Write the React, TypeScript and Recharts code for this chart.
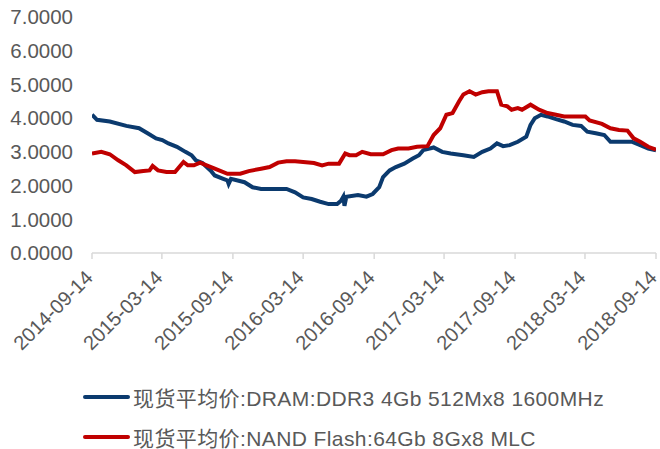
import React from 'react';
import { LineChart, Line, XAxis, YAxis } from 'recharts';

const dramDays = [0, 13, 46, 89, 122, 144, 166, 182, 198, 220, 242, 258, 269, 286, 307, 318, 340, 351, 354, 360, 395, 416, 438, 482, 504, 526, 547, 569, 591, 613, 635, 645, 651, 654, 659, 689, 711, 727, 744, 754, 771, 787, 809, 831, 847, 858, 885, 907, 929, 962, 989, 1011, 1032, 1049, 1065, 1082, 1103, 1125, 1136, 1147, 1163, 1180, 1202, 1223, 1245, 1267, 1283, 1305, 1327, 1343, 1365, 1398, 1420, 1441, 1461];
const dramValues = [4.1, 3.95, 3.9, 3.77, 3.7, 3.55, 3.4, 3.35, 3.25, 3.15, 3.0, 2.9, 2.75, 2.67, 2.45, 2.3, 2.2, 2.15, 2.05, 2.2, 2.1, 1.95, 1.9, 1.9, 1.9, 1.8, 1.65, 1.6, 1.52, 1.45, 1.45, 1.55, 1.67, 1.4, 1.67, 1.72, 1.67, 1.75, 1.95, 2.25, 2.45, 2.55, 2.65, 2.8, 2.9, 3.05, 3.13, 3.0, 2.95, 2.9, 2.85, 3.0, 3.1, 3.25, 3.17, 3.2, 3.3, 3.45, 3.8, 4.0, 4.1, 4.05, 3.97, 3.9, 3.8, 3.77, 3.6, 3.55, 3.5, 3.3, 3.3, 3.3, 3.2, 3.1, 3.05];

const nandDays = [0, 24, 46, 68, 89, 111, 133, 149, 157, 171, 193, 215, 237, 248, 264, 280, 297, 318, 351, 384, 406, 438, 460, 482, 504, 526, 547, 575, 596, 613, 640, 656, 667, 684, 700, 722, 754, 776, 793, 820, 842, 869, 885, 902, 918, 934, 951, 962, 978, 994, 1011, 1027, 1049, 1060, 1076, 1087, 1103, 1114, 1136, 1158, 1180, 1202, 1223, 1256, 1278, 1289, 1321, 1343, 1365, 1387, 1403, 1420, 1441, 1461];
const nandValues = [2.95, 3.0, 2.93, 2.75, 2.6, 2.4, 2.43, 2.45, 2.58, 2.45, 2.4, 2.4, 2.7, 2.6, 2.6, 2.68, 2.6, 2.5, 2.35, 2.35, 2.43, 2.5, 2.55, 2.68, 2.72, 2.72, 2.7, 2.67, 2.6, 2.65, 2.65, 2.95, 2.9, 2.9, 3.0, 2.93, 2.93, 3.05, 3.1, 3.1, 3.15, 3.17, 3.5, 3.7, 4.1, 4.15, 4.5, 4.7, 4.8, 4.7, 4.77, 4.8, 4.8, 4.4, 4.35, 4.25, 4.3, 4.25, 4.4, 4.25, 4.15, 4.1, 4.05, 4.05, 4.05, 3.93, 3.83, 3.7, 3.65, 3.63, 3.4, 3.3, 3.15, 3.07];

const tickDays = [0, 181, 365, 547, 731, 912, 1096, 1277, 1461];
const tickLabels = ['2014-09-14', '2015-03-14', '2015-09-14', '2016-03-14', '2016-09-14', '2017-03-14', '2017-09-14', '2018-03-14', '2018-09-14'];
const yTicks = [0, 1, 2, 3, 4, 5, 6, 7];

const dramName = '现货平均价:DRAM:DDR3 4Gb 512Mx8 1600MHz';
const nandName = '现货平均价:NAND Flash:64Gb 8Gx8 MLC';
const dramColor = '#0B3A6E';
const nandColor = '#C00000';

const dramData = dramDays.map((d, i) => ({ day: d, value: dramValues[i] }));
const nandData = nandDays.map((d, i) => ({ day: d, value: nandValues[i] }));

const FONT = 'Arial, "Liberation Sans", "Noto Sans CJK SC", sans-serif';

const XTick = (props: any) => {
  const { x, y, payload } = props;
  const idx = tickDays.indexOf(payload.value);
  return (
    <g transform={`translate(${x + 2},${y + 18})`}>
      <text x={0} y={0} textAnchor="end" transform="rotate(-45)" fill="#595959" fontSize={20} fontFamily={FONT}>
        {tickLabels[idx]}
      </text>
    </g>
  );
};

export default function App() {
  return (
    <div style={{ position: 'absolute', left: 0, top: 0, width: 660, height: 449, background: '#fff' }}>
      <LineChart width={660} height={449} margin={{ top: 17, right: 4, left: 0, bottom: 96 }}>
        <XAxis
          dataKey="day"
          type="number"
          domain={[0, 1461]}
          ticks={tickDays}
          interval={0}
          height={100}
          tick={<XTick />}
          axisLine={{ stroke: '#D9D9D9', strokeWidth: 1.5 }}
          tickLine={{ stroke: '#D9D9D9', strokeWidth: 1.5 }}
          tickSize={6}
          allowDataOverflow
        />
        <YAxis
          type="number"
          domain={[0, 7]}
          ticks={yTicks}
          interval={0}
          width={92}
          axisLine={false}
          tickLine={false}
          tickMargin={13}
          tickFormatter={(v: number) => v.toFixed(4)}
          tick={{ fill: '#595959', fontSize: 20.5, fontFamily: FONT }}
        />
        <Line data={dramData} dataKey="value" name={dramName} stroke={dramColor} strokeWidth={4} dot={false} isAnimationActive={false} type="linear" />
        <Line data={nandData} dataKey="value" name={nandName} stroke={nandColor} strokeWidth={4} dot={false} isAnimationActive={false} type="linear" />
      </LineChart>
      <div style={{ position: 'absolute', left: 83, top: 383, fontFamily: FONT, fontSize: 21, color: '#595959', letterSpacing: 0.4 }}>
        {[{ n: dramName, c: dramColor }, { n: nandName, c: nandColor }].map((it, i) => (
          <div key={i} style={{ display: 'flex', alignItems: 'center', height: 28, marginBottom: i === 0 ? 12 : 0 }}>
            <span style={{ display: 'inline-block', width: 47, height: 4, borderRadius: 2, background: it.c, marginRight: 3 }} />
            <span style={{ whiteSpace: 'nowrap' }}>{it.n}</span>
          </div>
        ))}
      </div>
    </div>
  );
}
